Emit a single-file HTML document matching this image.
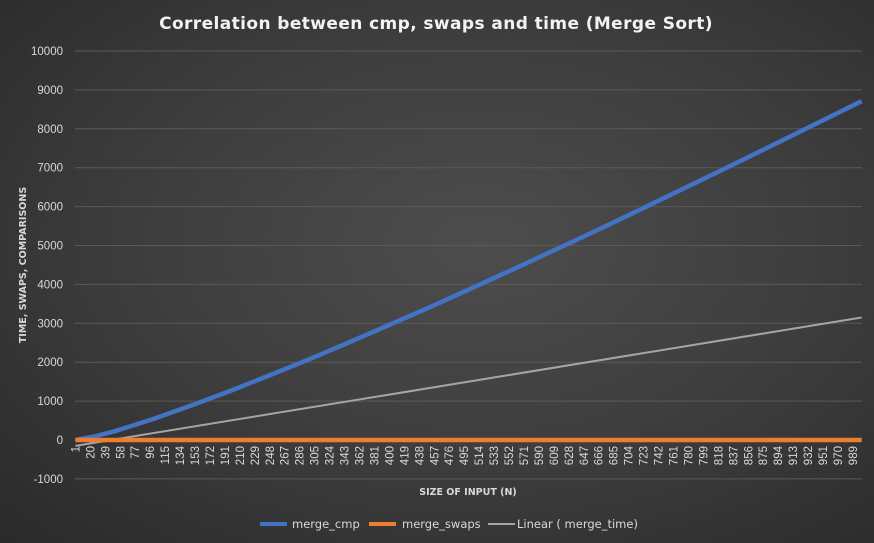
<!DOCTYPE html>
<html><head><meta charset="utf-8"><style>
html,body{margin:0;padding:0;}
body{width:874px;height:543px;overflow:hidden;background:radial-gradient(ellipse at 55% 45%,#4d4d4d 0%,#3f3f3f 45%,#2a2a2a 100%);font-family:"Liberation Sans","DejaVu Sans",sans-serif;}
svg{display:block}
</style></head><body>
<svg id="chart" width="874" height="543" xmlns="http://www.w3.org/2000/svg">
<text x="436" y="29" text-anchor="middle" fill="#f2f2f2" font-size="17" font-weight="bold" font-family="DejaVu Sans, sans-serif" letter-spacing="0.4">Correlation between cmp, swaps and time (Merge Sort)</text>
<g id="grid"></g>
<g id="yticks"></g>
<g id="xticks"></g>
<g id="series"></g>
<text transform="translate(26,265) rotate(-90)" text-anchor="middle" fill="#d9d9d9" font-size="9.5" font-weight="bold" font-family="DejaVu Sans, sans-serif">TIME, SWAPS, COMPARISONS</text>
<text x="468" y="495" text-anchor="middle" fill="#d9d9d9" font-size="9.5" font-weight="bold" font-family="DejaVu Sans, sans-serif">SIZE OF INPUT (N)</text>
<g font-size="11.5" fill="#d9d9d9" font-family="DejaVu Sans, sans-serif">
 <g><line x1="260" y1="524" x2="287" y2="524" stroke="#4472c4" stroke-width="4"/><text x="292" y="528">merge_cmp</text></g>
 <g><line x1="369" y1="524" x2="396" y2="524" stroke="#ed7d31" stroke-width="4"/><text x="402" y="528">merge_swaps</text></g>
 <g><line x1="488" y1="524" x2="515" y2="524" stroke="#a5a5a5" stroke-width="2"/><text x="517" y="528">Linear ( merge_time)</text></g>
</g>
</svg>
<script>
const yTicks=[-1000,0,1000,2000,3000,4000,5000,6000,7000,8000,9000,10000];
const cmpN=[1,25,50,100,150,200,250,300,350,400,450,500,550,600,650,700,750,800,850,900,950,1000];
const cmpVals=[0,90,220,540,900,1280,1680,2090,2520,2960,3400,3860,4320,4790,5260,5740,6230,6720,7210,7710,8210,8710];
const swapN=[1,1000];
const swapVals=[0,0];
const timeN=[1,1000];
const timeVals=[-150,3150];
const nCount=1000;
const xLabelStep=19;

const NS="http://www.w3.org/2000/svg";
const L=75,R=862,Y0=440,pxPer=38.9/1000;
function xPos(n){return L+(n-0.5)*(R-L)/nCount;}
function yPos(v){return Y0-v*pxPer;}
function mk(tag,attrs,parent){const e=document.createElementNS(NS,tag);for(const k in attrs)e.setAttribute(k,attrs[k]);parent.appendChild(e);return e;}
const grid=document.getElementById('grid'),yt=document.getElementById('yticks'),xt=document.getElementById('xticks'),ser=document.getElementById('series');
yTicks.forEach(v=>{
 const g=mk('line',{x1:L,x2:R,y1:yPos(v),y2:yPos(v),stroke:'#5a5a5a','stroke-width':1},grid);
 
 
 const t=mk('text',{x:63,y:yPos(v)+4,'text-anchor':'end',fill:'#d9d9d9','font-size':11.5},yt);
 
 
 t.textContent=v;
});
for(let n=1;n<=nCount;n+=xLabelStep){
 const x=xPos(n);
 const t=mk('text',{transform:`translate(${x+4},${Y0+6}) rotate(-90)`,'text-anchor':'end',fill:'#d9d9d9','font-size':11.5},xt);
 
 
 t.textContent=n;
}
function poly(ns,vs,color,w,name){
 const p=mk('polyline',{points:ns.map((n,i)=>xPos(n)+','+yPos(vs[i])).join(' '),fill:'none',stroke:color,'stroke-width':w,'stroke-linejoin':'round'},ser);
 
 
}
poly(timeN,timeVals,'#a5a5a5',2,'merge-time-trendline');
poly(cmpN,cmpVals,'#4472c4',4.5,'merge-cmp-line');
poly(swapN,swapVals,'#ed7d31',4.5,'merge-swaps-line');
</script>
</body></html>
